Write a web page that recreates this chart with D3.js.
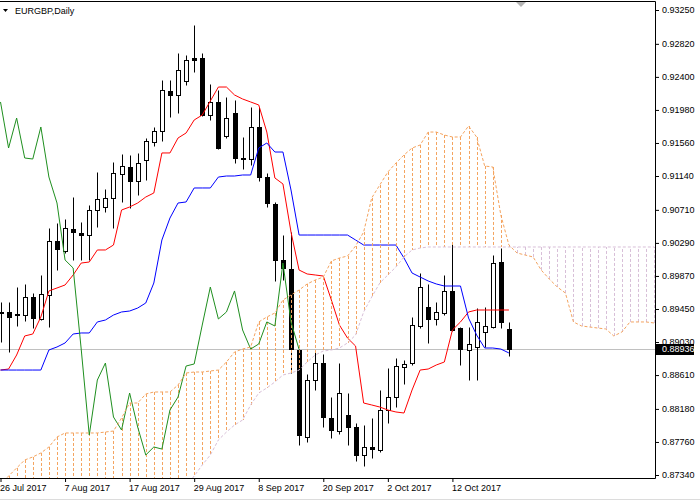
<!DOCTYPE html>
<html><head><meta charset="utf-8">
<script src="https://cdn.jsdelivr.net/npm/d3@7"></script>
<style>
html,body{margin:0;padding:0;background:#fff;}
svg{display:block;font-family:"Liberation Sans",Arial,sans-serif;}
</style></head><body>
<svg id="chart" width="700" height="501"></svg>
<script>
const chartTitle = "EURGBP,Daily";
const dateLabels = ["26 Jul 2017","7 Aug 2017","17 Aug 2017","29 Aug 2017","8 Sep 2017","20 Sep 2017","2 Oct 2017","12 Oct 2017"];
const dateBars = [0,8,16,24,32,40,48,56];
const priceTicks = [0.93250,0.92820,0.92400,0.91980,0.91560,0.91140,0.90710,0.90290,0.89870,0.89450,0.89030,0.88610,0.88180,0.87760,0.87340];
const lastPrice = 0.88936;

const opens = [0.89399,0.89412,0.89373,0.89373,0.89602,0.89323,0.89628,0.90314,0.90187,0.90467,
0.90416,0.90390,0.90708,0.90746,0.90861,0.91166,0.91255,0.91077,0.91344,0.91572,
0.91712,0.92221,0.92170,0.92348,0.92634,0.92640,0.91915,0.92081,0.91649,0.91941,
0.91369,0.91356,0.91763,0.91127,0.90784,0.90073,0.89958,0.88929,0.87823,0.88547,
0.88763,0.88064,0.87899,0.88102,0.87950,0.87594,0.87696,0.87658,0.88166,0.88331,
0.88713,0.88763,0.89234,0.89475,0.89323,0.89399,0.89679,0.89208,0.88929,0.88967,
0.89157,0.89221,0.90047,0.89196];
const highs = [0.89539,0.89539,0.89729,0.89768,0.89653,0.89882,0.90479,0.90543,0.90594,0.90873,
0.90556,0.90772,0.91191,0.90975,0.91318,0.91420,0.91407,0.91433,0.91623,0.91763,
0.92360,0.92360,0.92704,0.92678,0.93059,0.92704,0.92310,0.92233,0.92144,0.92106,
0.91636,0.92017,0.92017,0.91178,0.90810,0.90390,0.90428,0.88941,0.88624,0.88916,
0.88878,0.88331,0.88763,0.88382,0.88001,0.87975,0.88064,0.88420,0.88700,0.88827,
0.88802,0.89348,0.89907,0.89768,0.89539,0.89882,0.90301,0.89221,0.89221,0.89462,
0.89475,0.90136,0.90225,0.89285];
const lows = [0.89030,0.88903,0.89234,0.89297,0.89208,0.89310,0.89221,0.89945,0.90162,0.90073,
0.90073,0.90073,0.90492,0.90683,0.90479,0.90810,0.90733,0.90899,0.91089,0.91521,
0.91585,0.91890,0.91941,0.92297,0.92462,0.91903,0.91852,0.91483,0.91623,0.91305,
0.91229,0.91280,0.91077,0.90746,0.89806,0.89818,0.88636,0.87721,0.87759,0.88420,
0.87950,0.87810,0.87861,0.87721,0.87518,0.87454,0.87556,0.87632,0.88001,0.88204,
0.88497,0.88738,0.89208,0.89018,0.89246,0.89373,0.89170,0.88738,0.88547,0.88547,
0.88967,0.89208,0.89208,0.88852];
const closes = [0.89412,0.89348,0.89386,0.89602,0.89335,0.89640,0.90314,0.90212,0.90479,0.90428,
0.90390,0.90708,0.90848,0.90861,0.91178,0.91267,0.91077,0.91305,0.91585,0.91712,
0.92233,0.92170,0.92487,0.92615,0.92615,0.91915,0.92081,0.91496,0.91877,0.91369,
0.91356,0.91763,0.91127,0.90797,0.90073,0.89971,0.88941,0.87848,0.88547,0.88763,
0.88077,0.87912,0.88382,0.87950,0.87594,0.87696,0.87670,0.88166,0.88331,0.88725,
0.88751,0.89246,0.89729,0.89323,0.89412,0.89679,0.89183,0.88941,0.89005,0.89285,
0.89234,0.90034,0.89285,0.88936];

const tenkan = [0.88674,0.88687,0.88865,0.89107,0.89132,0.89348,0.89679,0.89717,0.89755,0.89882,
0.90034,0.90047,0.90200,0.90200,0.90263,0.90708,0.90746,0.90797,0.90873,0.90924,
0.91433,0.91433,0.91623,0.91687,0.91852,0.91915,0.92093,0.92271,0.92271,0.92170,
0.92119,0.92081,0.92043,0.91699,0.91115,0.91039,0.90428,0.89945,0.89895,0.89882,
0.89869,0.89564,0.89246,0.89081,0.88979,0.88255,0.88230,0.88204,0.88166,0.88141,
0.88128,0.88420,0.88674,0.88687,0.88738,0.88776,0.89183,0.89285,0.89412,0.89437,
0.89437,0.89437,0.89437,0.89437];
const kijun = [0.88674,0.88674,0.88674,0.88674,0.88674,0.88674,0.88929,0.88967,0.89018,0.89132,
0.89145,0.89145,0.89285,0.89310,0.89373,0.89412,0.89424,0.89462,0.89526,0.89780,
0.90327,0.90606,0.90797,0.90810,0.90988,0.90988,0.90988,0.91127,0.91140,0.91140,
0.91153,0.91153,0.91496,0.91560,0.91445,0.91445,0.90962,0.90390,0.90390,0.90390,
0.90390,0.90390,0.90390,0.90390,0.90327,0.90263,0.90263,0.90263,0.90263,0.90263,
0.90098,0.89907,0.89856,0.89806,0.89768,0.89742,0.89742,0.89742,0.89335,0.89119,
0.88954,0.88954,0.88941,0.88891];
const spanA = [0.87213,0.87327,0.87429,0.87531,0.87569,0.87620,0.87696,0.87823,0.87874,0.87874,
0.87874,0.87874,0.87874,0.87886,0.87899,0.88064,0.88255,0.88255,0.88369,0.88395,
0.88395,0.88395,0.88484,0.88636,0.88649,0.88649,0.88662,0.88674,0.88776,0.88903,
0.88941,0.88967,0.89285,0.89348,0.89399,0.89564,0.89628,0.89691,0.89768,0.89818,
0.89856,0.90060,0.90098,0.90123,0.90250,0.90428,0.90861,0.91026,0.91191,0.91305,
0.91407,0.91496,0.91534,0.91699,0.91699,0.91661,0.91636,0.91636,0.91776,0.91636,
0.91267,0.91255,0.90644,0.90263,0.90162,0.90136,0.90111,0.89945,0.89831,0.89729,
0.89653,0.89285,0.89234,0.89221,0.89208,0.89196,0.89107,0.89157,0.89285,0.89285,
0.89285,0.89272];
const spanB = [0.87000,0.87000,0.87000,0.87000,0.87000,0.87000,0.87000,0.87000,0.87000,0.87000,
0.87000,0.87000,0.87000,0.87000,0.87000,0.87000,0.87000,0.87000,0.87000,0.87020,
0.87040,0.87060,0.87090,0.87200,0.87327,0.87467,0.87594,0.87785,0.87886,0.87975,
0.88039,0.88230,0.88382,0.88446,0.88522,0.88611,0.88636,0.88674,0.88776,0.88865,
0.88916,0.88929,0.88954,0.89018,0.89119,0.89412,0.89602,0.89780,0.89882,0.89984,
0.90111,0.90200,0.90225,0.90238,0.90238,0.90238,0.90238,0.90238,0.90238,0.90238,
0.90238,0.90238,0.90238,0.90238,0.90238,0.90238,0.90238,0.90238,0.90238,0.90238,
0.90238,0.90238,0.90238,0.90238,0.90238,0.90238,0.90238,0.90238,0.90238,0.90238,
0.90238,0.90238];
const chikouShift = 26;

const svg = d3.select("#chart");
const x = d3.scaleLinear().domain([0, 63]).range([0.5, 508.9]);
const y = d3.scaleLinear().domain([0.87340, 0.93250]).range([475, 10]);
const px = i => Math.round(x(i)) + 0.5;
const py = v => Math.round(y(v)) + 0.5;

svg.append("defs").append("clipPath").attr("id", "plot")
  .append("rect").attr("x", 0).attr("y", 2).attr("width", 655).attr("height", 476);
const g = svg.append("g").attr("clip-path", "url(#plot)");

// current price line
g.append("line").attr("x1", 0).attr("x2", 655)
  .attr("y1", py(lastPrice)).attr("y2", py(lastPrice)).attr("stroke", "#c0c0c0");

// candles
const bars = d3.range(closes.length);
const cg = g.append("g");
cg.selectAll("line.wick").data(bars).join("line").attr("class", "wick")
  .attr("x1", px).attr("x2", px)
  .attr("y1", i => py(highs[i])).attr("y2", i => py(lows[i]))
  .attr("stroke", "#000").attr("stroke-width", 1);
cg.selectAll("rect.body").data(bars.filter(i => py(opens[i]) !== py(closes[i]))).join("rect").attr("class", "body")
  .attr("x", i => Math.round(x(i)) - 2 + 0.5)
  .attr("width", 4)
  .attr("y", i => Math.min(py(opens[i]), py(closes[i])))
  .attr("height", i => Math.abs(py(opens[i]) - py(closes[i])))
  .attr("fill", i => closes[i] >= opens[i] ? "#fff" : "#000")
  .attr("stroke", "#000").attr("stroke-width", 1);
cg.selectAll("line.doji").data(bars.filter(i => py(opens[i]) === py(closes[i]))).join("line").attr("class", "doji")
  .attr("x1", i => Math.round(x(i)) - 2).attr("x2", i => Math.round(x(i)) + 3)
  .attr("y1", i => py(closes[i])).attr("y2", i => py(closes[i]))
  .attr("stroke", "#000");

// tenkan / kijun
const lineT = d3.line().x(i => x(i)).y(i => y(tenkan[i]));
const lineK = d3.line().x(i => x(i)).y(i => y(kijun[i]));
g.append("path").attr("d", lineT(bars)).attr("fill", "none").attr("stroke", "#ff0000").attr("stroke-width", 1);
g.append("path").attr("d", lineK(bars)).attr("fill", "none").attr("stroke", "#0000ff").attr("stroke-width", 1);

// cloud hatch
const cloudBars = d3.range(spanA.length);
g.append("g").selectAll("line").data(cloudBars).join("line")
  .attr("x1", px).attr("x2", px)
  .attr("y1", i => y(spanA[i])).attr("y2", i => y(spanB[i]))
  .attr("stroke", i => spanA[i] >= spanB[i] ? "#f4a460" : "#d8bfd8")
  .attr("stroke-width", 1).attr("stroke-dasharray", "3,2");

// chikou
const chikouBars = d3.range(closes.length - chikouShift);
const lineC = d3.line().x(i => x(i)).y(i => y(closes[i + chikouShift]));
g.append("path").attr("d", lineC(chikouBars)).attr("fill", "none").attr("stroke", "#1f8f1f").attr("stroke-width", 1);

// span lines
const lineA = d3.line().x(i => x(i)).y(i => y(spanA[i]));
const lineB = d3.line().x(i => x(i)).y(i => y(spanB[i]));
g.append("path").attr("d", lineA(cloudBars)).attr("fill", "none").attr("stroke", "#f4a460").attr("stroke-dasharray", "3,2");
g.append("path").attr("d", lineB(cloudBars)).attr("fill", "none").attr("stroke", "#d8bfd8").attr("stroke-dasharray", "3,2");

// frame
svg.append("path").attr("d", "M0,1.5H655.5V478.5H0").attr("fill", "none").attr("stroke", "#000");
svg.append("line").attr("x1", 0).attr("x2", 700).attr("y1", 499.5).attr("y2", 499.5).attr("stroke", "#dcdcdc");

// price axis
const yAxis = d3.axisRight(y).tickValues(priceTicks).tickSize(4).tickPadding(3).tickFormat(d3.format(".5f"));
const ya = svg.append("g").attr("transform", "translate(655,0)").call(yAxis);
ya.select(".domain").remove();
ya.selectAll("text").attr("font-size", 9).attr("fill", "#000").attr("font-family", "Liberation Sans, Arial, sans-serif");
ya.selectAll("line").attr("stroke", "#000");

// date axis
const xAxis = d3.axisBottom(x).tickValues(dateBars).tickSize(4).tickPadding(3).tickFormat((d, i) => dateLabels[i]);
const xa = svg.append("g").attr("transform", "translate(0,478)").call(xAxis);
xa.select(".domain").remove();
xa.selectAll("text").attr("font-size", 9).attr("fill", "#000").attr("text-anchor", "start").attr("x", -1)
  .attr("font-family", "Liberation Sans, Arial, sans-serif");
xa.selectAll("line").attr("stroke", "#000");

// current price box
svg.append("rect").attr("x", 656).attr("y", py(lastPrice) - 5.5).attr("width", 38).attr("height", 11).attr("fill", "#000");
svg.append("text").attr("x", 662).attr("y", py(lastPrice)).attr("dy", "0.32em").attr("font-size", 9).attr("fill", "#fff")
  .text(d3.format(".5f")(lastPrice));

// title
svg.append("path").attr("d", "M3,9L8,9L5.5,12Z").attr("fill", "#000");
svg.append("text").attr("x", 15).attr("y", 13.5).attr("font-size", 9).attr("fill", "#000").text(chartTitle);
// shift marker
svg.append("path").attr("d", "M516,2L526,2L521,7Z").attr("fill", "#b4b4b4");
</script>
</body></html>
